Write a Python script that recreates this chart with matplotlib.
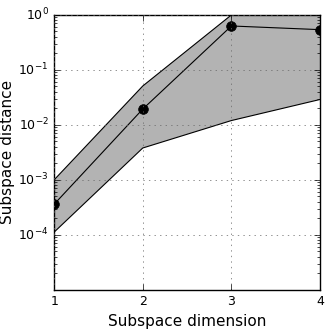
import matplotlib
matplotlib.use("Agg")
import matplotlib.pyplot as plt

dims = [1, 2, 3, 4]
mean_dist = [3.6e-4, 1.94e-2, 0.63, 0.54]
upper_dist = [1.0e-3, 5.1e-2, 1.0, 1.3]
lower_dist = [1.12e-4, 3.8e-3, 1.2e-2, 2.9e-2]

plt.style.use('classic')
fig = plt.figure(figsize=(3.32, 3.32), dpi=100)
fig.patch.set_facecolor('white')
ax = fig.add_axes([0.163, 0.127, 0.801, 0.828])

ax.fill_between(dims, lower_dist, upper_dist, facecolor='0.7', edgecolor='none')
ax.plot(dims, upper_dist, 'k-', lw=0.8)
ax.plot(dims, lower_dist, 'k-', lw=0.8)
ax.plot(dims, mean_dist, 'k-', marker='o', ms=7, lw=0.8)

ax.set_yscale('log')
ax.set_xlim(1, 4)
ax.set_ylim(1e-5, 1)
ax.set_xticks([1, 2, 3, 4])
ax.set_yticks([1e-4, 1e-3, 1e-2, 1e-1, 1])
ax.tick_params(labelsize=9)
ax.grid(True, color='0.4', linestyle=':')
ax.set_xlabel('Subspace dimension', fontsize=11)
ax.set_ylabel('Subspace distance', fontsize=11)
ax.xaxis.set_label_coords(0.5, -0.087)
ax.yaxis.set_label_coords(-0.147, 0.5)

fig.savefig('out.png', dpi=100, facecolor='white')
